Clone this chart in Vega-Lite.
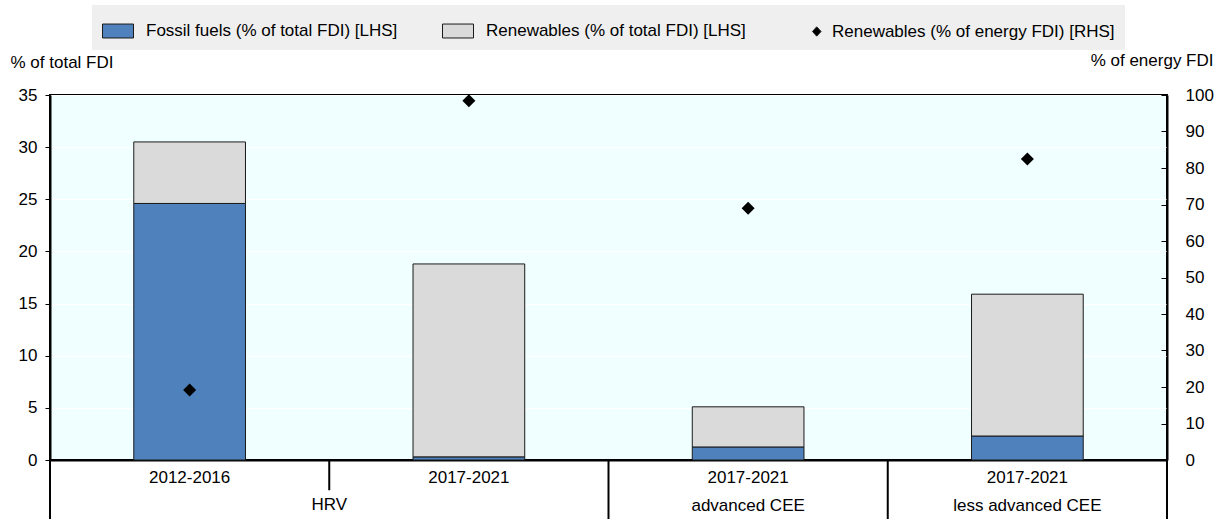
{
  "$schema": "https://vega.github.io/schema/vega-lite/v6.json",
  "width": 1117,
  "height": 365,
  "autosize": "none",
  "padding": {"left": 50, "top": 95, "right": 54, "bottom": 59},
  "background": "white",
  "config": {
    "font": "'Liberation Sans', Arial, sans-serif",
    "view": {"fill": "#f0ffff", "stroke": "#000000", "strokeWidth": 2},
    "axis": {"labelFontSize": 17, "labelColor": "#000000", "titleFontSize": 17, "titleFontWeight": "normal", "titleColor": "#000000", "domainColor": "#000000", "tickColor": "#000000"},
    "legend": {"labelFontSize": 17, "labelColor": "#000000", "labelLimit": 500}
  },
  "datasets": {
    "bars": [
      {"cat": "2012-2016 HRV", "series": "Fossil fuels (% of total FDI) [LHS]", "value": 24.6},
      {"cat": "2012-2016 HRV", "series": "Renewables (% of total FDI) [LHS]", "value": 5.9},
      {"cat": "2017-2021 HRV", "series": "Fossil fuels (% of total FDI) [LHS]", "value": 0.3},
      {"cat": "2017-2021 HRV", "series": "Renewables (% of total FDI) [LHS]", "value": 18.5},
      {"cat": "2017-2021 advanced CEE", "series": "Fossil fuels (% of total FDI) [LHS]", "value": 1.25},
      {"cat": "2017-2021 advanced CEE", "series": "Renewables (% of total FDI) [LHS]", "value": 3.85},
      {"cat": "2017-2021 less advanced CEE", "series": "Fossil fuels (% of total FDI) [LHS]", "value": 2.3},
      {"cat": "2017-2021 less advanced CEE", "series": "Renewables (% of total FDI) [LHS]", "value": 13.6}
    ],
    "points": [
      {"cat": "2012-2016 HRV", "series": "Renewables (% of energy FDI) [RHS]", "value": 19.2},
      {"cat": "2017-2021 HRV", "series": "Renewables (% of energy FDI) [RHS]", "value": 98.4},
      {"cat": "2017-2021 advanced CEE", "series": "Renewables (% of energy FDI) [RHS]", "value": 69.0},
      {"cat": "2017-2021 less advanced CEE", "series": "Renewables (% of energy FDI) [RHS]", "value": 82.5}
    ]
  },
  "layer": [
    {
      "layer": [
        {
          "data": {"name": "bars"},
          "mark": {"type": "bar", "stroke": "#1a1a1a", "strokeWidth": 1, "width": {"band": 0.4}},
          "encoding": {
            "x": {
              "field": "cat", "type": "nominal",
              "scale": {"domain": ["2012-2016 HRV", "2017-2021 HRV", "2017-2021 advanced CEE", "2017-2021 less advanced CEE"], "paddingInner": 0, "paddingOuter": 0},
              "axis": {"title": null, "ticks": false, "domainWidth": 2, "labelAngle": 0, "labelPadding": 9, "labelBaseline": "top", "labelLineHeight": 28,
                "labelExpr": "indexof(datum.value, 'CEE') > 0 ? [substring(datum.value, 0, 9), substring(datum.value, 10)] : [substring(datum.value, 0, 9), '']"}
            },
            "y": {
              "field": "value", "type": "quantitative", "stack": "zero",
              "scale": {"domain": [0, 35], "nice": false},
              "axis": {"title": "% of total FDI", "titleAngle": 0, "titleAlign": "left", "titleBaseline": "middle", "titleX": -40, "titleY": -33,
                "values": [0, 5, 10, 15, 20, 25, 30, 35], "tickSize": 5, "labelPadding": 8, "grid": true, "gridColor": "#ffffff", "gridWidth": 1, "domainWidth": 2}
            },
            "color": {
              "field": "series", "type": "nominal",
              "scale": {"domain": ["Fossil fuels (% of total FDI) [LHS]", "Renewables (% of total FDI) [LHS]", "Renewables (% of energy FDI) [RHS]"], "range": ["#4f81bd", "#dadada", "#000000"]},
              "legend": {
                "orient": "none", "legendX": 42, "legendY": -90, "direction": "horizontal", "title": null,
                "fillColor": "#efefef", "padding": 10, "columnPadding": 42,
                "symbolSize": 961, "symbolStrokeColor": "#1a1a1a", "symbolStrokeWidth": 1, "symbolOpacity": 1,
                "symbolType": "M-1,-0.45H1V0.45H-1Z", "labelOffset": 12,
                "encode": {"symbols": {"update": {"shape": {"signal": "datum.value === 'Renewables (% of energy FDI) [RHS]' ? 'M0.55,0L0.82,-0.3L1.1,0L0.82,0.3Z' : 'M-1,-0.45H1V0.45H-1Z'"}}}}
              }
            },
            "order": {"field": "series", "sort": "ascending"}
          }
        },
        {
          "data": {"values": [{"cat": "2012-2016 HRV"}, {"cat": "2017-2021 advanced CEE"}, {"cat": "2017-2021 less advanced CEE"}]},
          "mark": {"type": "rule", "color": "#000000", "strokeWidth": 2},
          "encoding": {
            "x": {"field": "cat", "type": "nominal", "bandPosition": 0},
            "y": {"datum": 0, "type": "quantitative", "scale": {"domain": [0, 35], "nice": false}},
            "y2": {"datum": -5.9}
          }
        },
        {
          "data": {"values": [{"cat": "2017-2021 less advanced CEE"}]},
          "mark": {"type": "rule", "color": "#000000", "strokeWidth": 2},
          "encoding": {
            "x": {"field": "cat", "type": "nominal", "bandPosition": 1},
            "y": {"datum": 0, "type": "quantitative", "scale": {"domain": [0, 35], "nice": false}},
            "y2": {"datum": -5.9}
          }
        },
        {
          "data": {"values": [{"cat": "2017-2021 HRV"}]},
          "mark": {"type": "rule", "color": "#000000", "strokeWidth": 2},
          "encoding": {
            "x": {"field": "cat", "type": "nominal", "bandPosition": 0},
            "y": {"datum": 0, "type": "quantitative", "scale": {"domain": [0, 35], "nice": false}},
            "y2": {"datum": -2.9}
          }
        },
        {
          "data": {"values": [{"cat": "2012-2016 HRV", "label": "HRV"}]},
          "mark": {"type": "text", "fontSize": 17, "baseline": "middle", "align": "center", "color": "#000000"},
          "encoding": {
            "x": {"field": "cat", "type": "nominal", "bandPosition": 1},
            "y": {"datum": -4.3, "type": "quantitative", "scale": {"domain": [0, 35], "nice": false}},
            "text": {"field": "label"}
          }
        }
      ]
    },
    {
      "data": {"name": "points"},
      "mark": {"type": "point", "shape": "diamond", "filled": true, "size": 169, "opacity": 1},
      "encoding": {
        "x": {"field": "cat", "type": "nominal"},
        "y": {
          "field": "value", "type": "quantitative",
          "scale": {"domain": [0, 100], "nice": false},
          "axis": {"orient": "right", "title": "% of energy FDI", "titleAngle": 0, "titleAlign": "right", "titleBaseline": "middle", "titleX": 46, "titleY": -35,
            "values": [0, 10, 20, 30, 40, 50, 60, 70, 80, 90, 100], "tickSize": -6, "labelPadding": 24, "grid": false, "domainWidth": 2}
        },
        "color": {"field": "series", "type": "nominal"}
      }
    }
  ],
  "resolve": {"scale": {"y": "independent"}}
}
